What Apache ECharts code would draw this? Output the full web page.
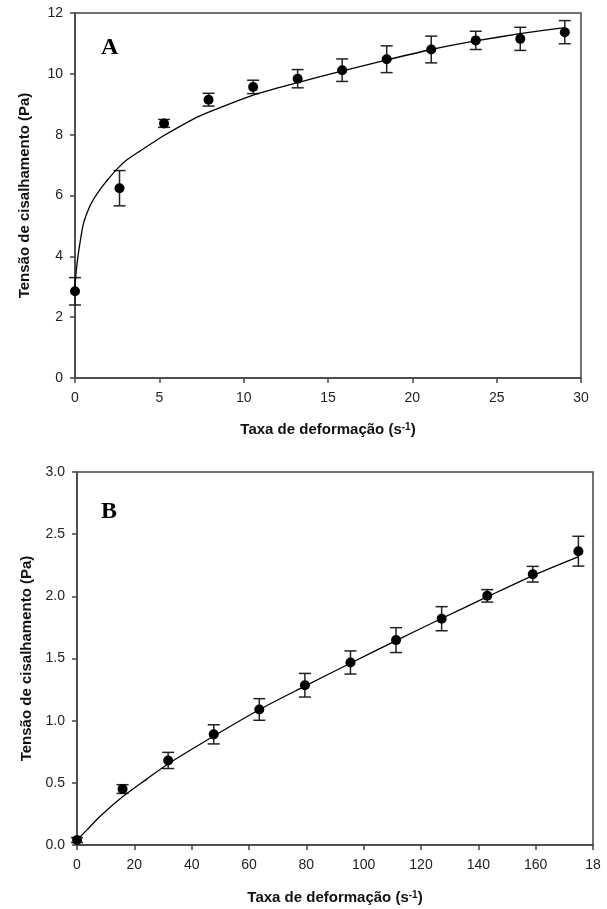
<!DOCTYPE html>
<html>
<head>
<meta charset="utf-8">
<script src="https://cdn.jsdelivr.net/npm/echarts@6/dist/echarts.min.js"></script>
<style>
  html, body { margin: 0; padding: 0; background: #fff; }
  #main { width: 607px; height: 909px; }
</style>
</head>
<body>
<div id="main"></div>
<script>
// panel A - measured points (mean, +/- error)
var rateA = [0, 2.64, 5.28, 7.92, 10.56, 13.2, 15.84, 18.48, 21.12, 23.76, 26.4, 29.04];
var stressA = [2.85, 6.24, 8.37, 9.15, 9.57, 9.84, 10.12, 10.48, 10.80, 11.10, 11.15, 11.37];
var errA = [0.45, 0.58, 0.13, 0.21, 0.22, 0.30, 0.37, 0.44, 0.44, 0.30, 0.38, 0.38];
// panel A - fitted curve
var fitRateA = [0, 0.03, 0.08, 0.2, 0.49, 0.8, 1.09, 1.4, 1.68, 2.0, 2.47, 3.1, 3.85, 5.3, 7.41, 10.57, 13.2, 15.87, 18.5, 21.14, 23.75, 26.38, 29.05];
var fitStressA = [3.0, 3.25, 3.55, 4.1, 5.05, 5.55, 5.87, 6.13, 6.34, 6.56, 6.86, 7.18, 7.46, 7.98, 8.62, 9.3, 9.71, 10.1, 10.46, 10.8, 11.08, 11.32, 11.52];

// panel B
var rateB = [0, 15.9, 31.8, 47.7, 63.6, 79.5, 95.4, 111.3, 127.2, 143.1, 159, 174.9];
var stressB = [0.04, 0.45, 0.68, 0.89, 1.09, 1.285, 1.468, 1.648, 1.82, 2.004, 2.178, 2.363];
var errB = [0.02, 0.035, 0.065, 0.077, 0.087, 0.095, 0.093, 0.10, 0.097, 0.05, 0.063, 0.12];
var fitRateB = [0, 3.4, 8, 16, 24.3, 32, 47.7, 63.7, 79.5, 95.2, 111.1, 127, 143, 158.9, 174.8];
var fitStressB = [0.04, 0.12, 0.23, 0.39, 0.53, 0.656, 0.876, 1.09, 1.278, 1.46, 1.642, 1.82, 1.995, 2.165, 2.317];

var xTitle = '{t|Taxa de deformação (s}{s|-1}{t|)}';
var yTitle = 'Tensão de cisalhamento (Pa)';

var FONT = 'Liberation Sans, Arial, sans-serif';
var AXIS_COLOR = '#444';

function pairs(xs, ys) {
  return xs.map(function (x, i) { return [x, ys[i]]; });
}
function errRows(xs, ys, es) {
  return xs.map(function (x, i) { return [x, ys[i] - es[i], ys[i] + es[i]]; });
}

function renderErr(params, api) {
  var top = api.coord([api.value(0), api.value(2)]);
  var bot = api.coord([api.value(0), api.value(1)]);
  var w = 6;
  var st = { stroke: '#222', lineWidth: 1.5 };
  return {
    type: 'group',
    children: [
      { type: 'line', shape: { x1: top[0], y1: top[1], x2: bot[0], y2: bot[1] }, style: st },
      { type: 'line', shape: { x1: top[0] - w, y1: top[1], x2: top[0] + w, y2: top[1] }, style: st },
      { type: 'line', shape: { x1: bot[0] - w, y1: bot[1], x2: bot[0] + w, y2: bot[1] }, style: st }
    ]
  };
}

function xAxisCfg(grid, max, step, gap, fmt) {
  return {
    type: 'value', gridIndex: grid, min: 0, max: max, interval: step,
    name: xTitle, nameLocation: 'middle', nameGap: gap,
    nameTextStyle: {
      rich: {
        t: { fontFamily: FONT, fontSize: 15, fontWeight: 'bold', color: '#111' },
        s: { fontFamily: FONT, fontSize: 10, fontWeight: 'bold', color: '#111', verticalAlign: 'top' }
      }
    },
    splitLine: { show: false },
    axisLine: { lineStyle: { color: AXIS_COLOR, width: 1.5 } },
    axisTick: { length: 5, lineStyle: { color: AXIS_COLOR, width: 1.5 } },
    axisLabel: { margin: 13, fontFamily: FONT, fontSize: 14, color: '#222', formatter: fmt }
  };
}

function yAxisCfg(grid, max, step, fmt) {
  return {
    type: 'value', gridIndex: grid, min: 0, max: max, interval: step,
    name: yTitle, nameLocation: 'middle', nameGap: 43, nameRotate: 90,
    nameTextStyle: { fontFamily: FONT, fontSize: 15, fontWeight: 'bold', color: '#111' },
    splitLine: { show: false },
    axisLine: { lineStyle: { color: AXIS_COLOR, width: 1.5 } },
    axisTick: { length: 5, lineStyle: { color: AXIS_COLOR, width: 1.5 } },
    axisLabel: { margin: 12, fontFamily: FONT, fontSize: 14, color: '#222', formatter: fmt }
  };
}

var chart = echarts.init(document.getElementById('main'), null, { renderer: 'canvas' });

var option = {
  backgroundColor: '#fff',
  animation: false,
  grid: [
    { left: 75, top: 13, width: 506, height: 365, show: true, borderColor: AXIS_COLOR, borderWidth: 1.5 },
    { left: 77, top: 472, width: 516, height: 373, show: true, borderColor: AXIS_COLOR, borderWidth: 1.5 }
  ],
  xAxis: [
    xAxisCfg(0, 30, 5, 44),
    xAxisCfg(1, 180, 20, 45, function (v) { return v === 180 ? '18' : String(v); })
  ],
  yAxis: [
    yAxisCfg(0, 12, 2),
    yAxisCfg(1, 3, 0.5, function (v) { return v.toFixed(1); })
  ],
  graphic: [
    { type: 'text', left: 101, top: 36, style: { text: 'A', font: 'bold 24px "Liberation Serif", "Times New Roman", serif', fill: '#000' } },
    { type: 'text', left: 101, top: 500, style: { text: 'B', font: 'bold 24px "Liberation Serif", "Times New Roman", serif', fill: '#000' } }
  ],
  series: [
    { type: 'custom', xAxisIndex: 0, yAxisIndex: 0, renderItem: renderErr, data: errRows(rateA, stressA, errA), z: 2 },
    { type: 'line', xAxisIndex: 0, yAxisIndex: 0, data: pairs(fitRateA, fitStressA), smooth: 0.2,
      showSymbol: false, lineStyle: { color: '#000', width: 1.3 }, z: 3 },
    { type: 'scatter', xAxisIndex: 0, yAxisIndex: 0, data: pairs(rateA, stressA), symbolSize: 10,
      itemStyle: { color: '#000', opacity: 1 }, z: 4 },

    { type: 'custom', xAxisIndex: 1, yAxisIndex: 1, renderItem: renderErr, data: errRows(rateB, stressB, errB), z: 2 },
    { type: 'line', xAxisIndex: 1, yAxisIndex: 1, data: pairs(fitRateB, fitStressB), smooth: 0.3,
      showSymbol: false, lineStyle: { color: '#000', width: 1.3 }, z: 3 },
    { type: 'scatter', xAxisIndex: 1, yAxisIndex: 1, data: pairs(rateB, stressB), symbolSize: 10,
      itemStyle: { color: '#000', opacity: 1 }, z: 4 }
  ]
};

chart.setOption(option);
</script>
</body>
</html>
